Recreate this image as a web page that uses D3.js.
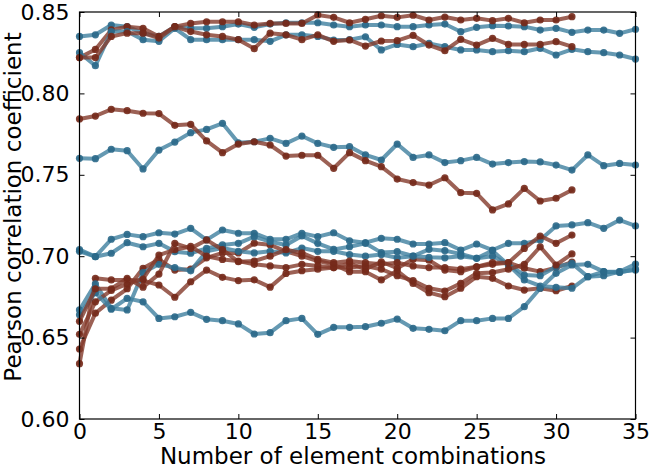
<!DOCTYPE html>
<html><head><meta charset="utf-8">
<script src="https://cdn.jsdelivr.net/npm/d3@7"></script>
<style>
html,body{margin:0;padding:0;background:#fff;}
svg{display:block;font-family:"DejaVu Sans",sans-serif;}
</style></head>
<body><svg id="chart" width="650" height="468"></svg>
<script>
// ---- data ----
const xTicks = [0, 5, 10, 15, 20, 25, 30, 35];
const yTicks = [0.60, 0.65, 0.70, 0.75, 0.80, 0.85];
const yTickLabels = ["0.60", "0.65", "0.70", "0.75", "0.80", "0.85"];
const xLabel = "Number of element combinations";
const yLabel = "Pearson correlation coefficient";

const blue1 = [0.835,0.836,0.842,0.841,0.837,0.835,0.841,0.840,0.840,0.841,0.8426,0.8406,0.8426,0.8434,0.8434,0.8434,0.842,0.841,0.842,0.842,0.841,0.841,0.842,0.8426,0.8379,0.8406,0.8416,0.8414,0.841,0.8389,0.840,0.8375,0.8389,0.8389,0.8369,0.8394];
const blue2 = [0.825,0.817,0.838,0.838,0.833,0.832,0.840,0.833,0.833,0.833,0.833,0.833,0.832,0.836,0.836,0.835,0.8328,0.833,0.8348,0.8267,0.8301,0.8287,0.8307,0.8287,0.8267,0.8267,0.8256,0.8262,0.8256,0.8277,0.8236,0.8271,0.8256,0.825,0.8236,0.8211];
const blue3 = [0.7601,0.7599,0.7657,0.7648,0.7536,0.7652,0.7701,0.7759,0.7779,0.7816,0.7697,0.7703,0.7724,0.7693,0.7738,0.7693,0.7669,0.7673,0.7622,0.7591,0.7689,0.7607,0.7622,0.7575,0.7587,0.7607,0.7566,0.7575,0.7581,0.7579,0.756,0.7529,0.7622,0.7556,0.757,0.756];
const blue4 = [0.704,0.6997,0.7104,0.7134,0.712,0.7144,0.7136,0.7171,0.710,0.7161,0.7141,0.7141,0.7104,0.7104,0.7141,0.712,0.7144,0.7095,0.7083,0.711,0.7104,0.7075,0.7075,0.7083,0.7038,0.7075,0.7038,0.7079,0.7079,0.710,0.7186,0.7192,0.7206,0.7171,0.7222,0.7186];
const blue5 = [0.703,0.6997,0.7018,0.7083,0.7058,0.7079,0.7028,0.7018,0.7048,0.7069,0.7079,0.712,0.7089,0.7069,0.7124,0.7079,0.7042,0.7058,0.7079,0.7022,0.7028,0.7001,0.7042,0.7034,0.7014,0.6987,0.7034,0.6946,0.6854,0.6817,0.6809,0.6803,0.6874,0.688,0.6905,0.6952];
const blue6 = [0.667,0.683,0.668,0.667,0.690,0.695,0.693,0.691,0.703,0.705,0.703,0.702,0.703,0.702,0.705,0.703,0.703,0.701,0.700,0.701,0.699,0.700,0.6993,0.699,0.700,0.6987,0.700,0.695,0.6884,0.688,0.6935,0.6956,0.6874,0.6905,0.6905,0.6915];
const blue7 = [0.664,0.6776,0.6674,0.6741,0.672,0.6618,0.6628,0.6655,0.6612,0.6604,0.6584,0.6522,0.653,0.6604,0.6618,0.652,0.6563,0.6563,0.6567,0.6588,0.6614,0.6557,0.6551,0.6542,0.6604,0.6604,0.6618,0.6618,0.669,0.6803,0.6895,0.6946,0.695,0.6905,0.690,0.692];

const red1 = [0.822,0.827,0.839,0.841,0.840,0.835,0.841,0.843,0.844,0.844,0.844,0.842,0.843,0.843,0.843,0.8482,0.8467,0.8434,0.8455,0.8477,0.8467,0.848,0.8451,0.8469,0.8451,0.8461,0.8447,0.8461,0.8434,0.8451,0.8451,0.8471];
const red2 = [0.822,0.822,0.835,0.837,0.837,0.834,0.841,0.838,0.836,0.835,0.833,0.8275,0.837,0.836,0.833,0.836,0.832,0.8328,0.8291,0.8322,0.8324,0.8357,0.8297,0.8262,0.8332,0.8297,0.8338,0.8301,0.8301,0.8301,0.8318,0.8287];
const red3 = [0.7843,0.7861,0.7902,0.7894,0.7878,0.7876,0.7804,0.781,0.7708,0.7636,0.7689,0.7703,0.7683,0.7615,0.762,0.762,0.754,0.7636,0.7587,0.755,0.7474,0.7452,0.7437,0.7482,0.739,0.7386,0.7284,0.7321,0.7417,0.7339,0.7356,0.7407];
const red4 = [0.643,0.665,0.673,0.680,0.6926,0.698,0.6915,0.692,0.699,0.702,0.702,0.708,0.707,0.703,0.700,0.697,0.695,0.6905,0.6905,0.6854,0.691,0.6833,0.6776,0.6751,0.6803,0.6874,0.6864,0.6817,0.6792,0.6803,0.6788,0.6817];
const red5 = [0.634,0.6864,0.6854,0.6854,0.685,0.6823,0.6748,0.6843,0.6915,0.687,0.685,0.6855,0.681,0.6894,0.6911,0.692,0.693,0.6956,0.692,0.6966,0.6926,0.6981,0.6975,0.6915,0.6905,0.6935,0.695,0.696,0.6926,0.6905,0.693,0.6964];
const red6 = [0.652,0.672,0.679,0.683,0.686,0.7007,0.704,0.706,0.700,0.698,0.697,0.695,0.694,0.693,0.695,0.694,0.693,0.693,0.694,0.692,0.688,0.685,0.6803,0.6786,0.6833,0.6895,0.690,0.692,0.695,0.7058,0.6946,0.7014];
const red7 = [0.660,0.680,0.680,0.6864,0.681,0.689,0.7079,0.7048,0.710,0.704,0.6966,0.697,0.700,0.704,0.702,0.698,0.696,0.697,0.696,0.695,0.696,0.694,0.693,0.693,0.692,0.6935,0.696,0.696,0.7048,0.7124,0.7079,0.713];

const blueSeries = [blue1, blue2, blue3, blue4, blue5, blue6, blue7];
const redSeries = [red1, red2, red3, red4, red5, red6, red7];

// ---- layout ----
const svg = d3.select("#chart");
const L = 79.5, R = 635.5, T = 12, B = 419;
const x = d3.scaleLinear().domain([0, 35]).range([L, R]);
const y = d3.scaleLinear().domain([0.60, 0.85]).range([B, T]);

const BLUE_LINE = "#3f7f9f", BLUE_PT = "#2a6888";
const RED_LINE = "#83392a", RED_PT = "#74291a";

const plot = svg.append("g");
const line = d3.line().x((d, i) => x(i)).y(d => y(d));

function drawSeries(vals, lc, pc) {
  const g = plot.append("g");
  g.append("path").datum(vals).attr("d", line)
    .attr("fill", "none").attr("stroke", lc).attr("stroke-width", 4)
    .attr("stroke-opacity", 0.8).attr("stroke-linejoin", "round").attr("stroke-linecap", "round");
  g.selectAll("circle").data(vals).enter().append("circle")
    .attr("cx", (d, i) => x(i)).attr("cy", d => y(d)).attr("r", 3.6)
    .attr("fill", pc).attr("fill-opacity", 0.9);
}
for (let k = 0; k < 7; k++) {
  drawSeries(blueSeries[k], BLUE_LINE, BLUE_PT);
  drawSeries(redSeries[k], RED_LINE, RED_PT);
}

// ---- axes ----
const fs = 22, lfs = 23;
const axB = svg.append("g").attr("transform", `translate(0,${B})`)
  .call(d3.axisBottom(x).tickValues(xTicks).tickSizeInner(-5).tickSizeOuter(0).tickPadding(4).tickFormat(d3.format("d")));
const axT = svg.append("g").attr("transform", `translate(0,${T})`)
  .call(d3.axisTop(x).tickValues(xTicks).tickSizeInner(-5).tickSizeOuter(0).tickFormat(""));
const axL = svg.append("g").attr("transform", `translate(${L},0)`)
  .call(d3.axisLeft(y).tickValues(yTicks).tickSizeInner(-5).tickSizeOuter(0).tickPadding(10)
    .tickFormat((d, i) => yTickLabels[i]));
const axR = svg.append("g").attr("transform", `translate(${R},0)`)
  .call(d3.axisRight(y).tickValues(yTicks).tickSizeInner(-5).tickSizeOuter(0).tickFormat(""));
[axB, axT, axL, axR].forEach(a => {
  a.select(".domain").remove();
  a.selectAll("line").attr("stroke", "#000").attr("stroke-width", 1);
  a.selectAll("text").attr("font-size", fs).attr("font-family", "DejaVu Sans").attr("fill", "#000");
});
svg.append("rect").attr("x", L).attr("y", T).attr("width", R - L).attr("height", B - T)
  .attr("fill", "none").attr("stroke", "#000").attr("stroke-width", 1.2);

svg.append("text").attr("x", 353).attr("y", 464).attr("text-anchor", "middle")
  .attr("font-size", lfs).attr("fill", "#000").text(xLabel);
svg.append("text").attr("transform", `translate(21,207) rotate(-90)`)
  .attr("text-anchor", "middle").attr("font-size", lfs).attr("fill", "#000").text(yLabel);
</script></body></html>
